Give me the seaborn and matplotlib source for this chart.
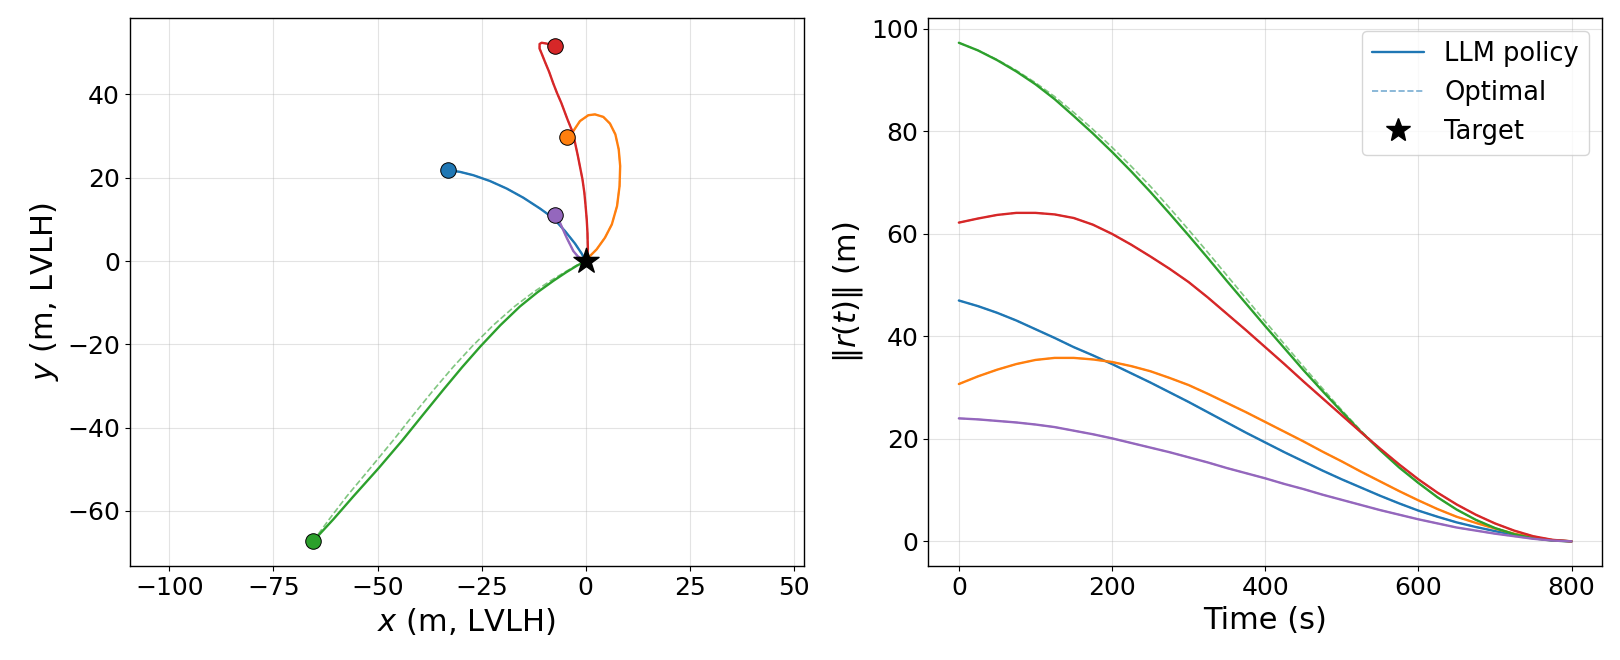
import matplotlib
matplotlib.use("Agg")
import matplotlib.pyplot as plt
import seaborn as sns
from matplotlib.lines import Line2D
from matplotlib.ticker import MultipleLocator

# ---------- data ----------
# trajectories in the LVLH x-y plane (m)
blue_x = [-33.0, -30.2, -27.0, -23.0, -19.0, -15.0, -11.0, -7.8, -5.0, -2.6, -1.0, 0.0]
blue_y = [21.8, 21.4, 20.6, 19.2, 17.4, 15.2, 12.6, 10.3, 7.2, 4.2, 1.8, 0.0]

orange_x = [-4.5, -3.0, -1.4, 0.6, 2.2, 4.2, 5.8, 7.1, 7.9, 8.25, 8.1, 7.5, 6.25, 4.6, 2.6, 1.0, 0.0]
orange_y = [29.7, 31.2, 33.6, 35.0, 35.2, 34.6, 33.0, 30.4, 26.8, 22.8, 18.0, 13.2, 8.8, 5.6, 2.8, 1.2, 0.0]

green_x = [-65.5, -60.6, -55.8, -49.8, -44.0, -39.0, -34.2, -29.7, -25.3, -20.5, -15.8, -11.6, -7.7, -4.7, -2.1, 0.0]
green_y = [-67.3, -62.0, -56.5, -49.8, -43.0, -36.8, -30.9, -25.5, -20.5, -15.4, -10.9, -7.5, -4.7, -2.7, -1.1, 0.0]
green_opt_x = [-65.5, -61.6, -57.4, -51.8, -46.2, -41.3, -36.5, -31.9, -27.3, -22.2, -17.1, -12.6, -8.4, -5.1, -2.3, 0.0]
green_opt_y = [-67.3, -62.0, -56.5, -49.8, -43.0, -36.8, -30.9, -25.5, -20.5, -15.4, -10.9, -7.5, -4.7, -2.7, -1.1, 0.0]

red_x = [-7.5, -9.4, -10.6, -11.1, -11.1, -10.6, -9.8, -8.8, -7.8, -6.9, -5.9, -4.4, -3.1, -2.5, -1.9,
         -1.35, -0.8, -0.35, -0.05, 0.22, 0.4, 0.5, 0.25, 0.0]
red_y = [51.6, 52.2, 52.4, 52.1, 51.0, 49.8, 47.8, 45.4, 42.6, 40.3, 38.0, 34.0, 30.8, 28.0, 25.2,
         22.4, 19.6, 16.4, 13.2, 10.0, 6.8, 2.8, 0.8, 0.0]

purple_x = [-7.5, -6.2, -4.6, -3.0, -2.0, -1.0, 0.0]
purple_y = [11.0, 9.2, 5.6, 2.4, 1.2, 0.4, 0.0]

# distance to target vs time
time_s = [0, 25, 50, 75, 100, 125, 150, 175, 200, 225, 250, 275, 300, 325, 350, 375, 400,
          425, 450, 475, 500, 525, 550, 575, 600, 625, 650, 675, 700, 725, 750, 775, 800]
norm_blue = [47.0, 45.9, 44.6, 43.1, 41.4, 39.7, 37.9, 36.3, 34.6, 32.8, 31.0, 29.1, 27.2, 25.2, 23.2, 21.2, 19.3,
             17.4, 15.6, 13.8, 12.1, 10.5, 8.9, 7.4, 6.0, 4.8, 3.7, 2.8, 2.0, 1.3, 0.7, 0.2, 0.0]
norm_orange = [30.7, 32.2, 33.5, 34.6, 35.4, 35.8, 35.8, 35.5, 35.0, 34.2, 33.2, 31.9, 30.5, 28.8, 27.0, 25.2, 23.3,
               21.4, 19.5, 17.5, 15.6, 13.6, 11.7, 9.8, 8.0, 6.3, 4.8, 3.6, 2.5, 1.5, 0.8, 0.25, 0.0]
norm_green = [97.3, 95.8, 93.9, 91.7, 89.2, 86.3, 83.0, 79.6, 76.0, 72.2, 68.2, 64.0, 59.7, 55.3, 50.8, 46.4, 42.0,
              37.7, 33.4, 29.3, 25.3, 21.4, 17.8, 14.4, 11.4, 8.6, 6.2, 4.2, 2.6, 1.4, 0.6, 0.15, 0.0]
norm_green_opt = [97.3, 95.8, 94.0, 91.9, 89.5, 86.8, 83.7, 80.4, 76.9, 73.2, 69.3, 65.1, 60.8, 56.4, 51.9, 47.4, 42.9,
                  38.5, 34.1, 29.8, 25.6, 21.6, 17.9, 14.5, 11.4, 8.6, 6.2, 4.2, 2.6, 1.4, 0.6, 0.15, 0.0]
norm_red = [62.2, 63.0, 63.7, 64.1, 64.1, 63.8, 63.1, 61.8, 60.0, 57.9, 55.6, 53.2, 50.6, 47.6, 44.4, 41.2, 37.9,
            34.6, 31.2, 27.9, 24.6, 21.3, 18.1, 15.0, 12.1, 9.5, 7.2, 5.2, 3.5, 2.1, 1.0, 0.3, 0.0]
norm_purple = [24.0, 23.8, 23.5, 23.2, 22.8, 22.3, 21.6, 20.9, 20.1, 19.2, 18.3, 17.4, 16.4, 15.4, 14.3, 13.3, 12.3,
               11.2, 10.2, 9.1, 8.1, 7.1, 6.1, 5.2, 4.3, 3.5, 2.7, 2.1, 1.5, 1.0, 0.5, 0.15, 0.0]

colors = ["tab:blue", "tab:orange", "tab:green", "tab:red", "tab:purple"]
traj = [(blue_x, blue_y), (orange_x, orange_y), (green_x, green_y), (red_x, red_y), (purple_x, purple_y)]
traj_opt = [(blue_x, blue_y), (orange_x, orange_y), (green_opt_x, green_opt_y), (red_x, red_y), (purple_x, purple_y)]
norms = [norm_blue, norm_orange, norm_green, norm_red, norm_purple]
norms_opt = [norm_blue, norm_orange, norm_green_opt, norm_red, norm_purple]

# ---------- figure ----------
sns.set_style("ticks")
plt.rcParams["font.family"] = ["DejaVu Sans"]
plt.rcParams["mathtext.fontset"] = "dejavusans"
plt.rcParams.update({"text.color": "black", "axes.labelcolor": "black",
                     "xtick.color": "black", "ytick.color": "black",
                     "axes.edgecolor": "black"})

fig, (ax1, ax2) = plt.subplots(1, 2, figsize=(16.2, 6.6), dpi=100)
fig.subplots_adjust(left=0.080, right=0.989, top=0.973, bottom=0.142, wspace=0.185)

LW = 1.7

# left: trajectories
for (xo, yo), c in zip(traj_opt, colors):
    sns.lineplot(x=xo, y=yo, sort=False, estimator=None, color=c, ax=ax1,
                 linestyle="--", linewidth=1.2, alpha=0.6, zorder=2)
for (x, y), c in zip(traj, colors):
    sns.lineplot(x=x, y=y, sort=False, estimator=None, color=c, ax=ax1,
                 linewidth=LW, zorder=3)
for (x, y), c in zip(traj, colors):
    ax1.scatter(x[0], y[0], s=125, color=c, edgecolor="black", linewidth=0.7, zorder=5)
ax1.scatter(0, 0, marker="*", s=360, color="black", zorder=6)
ax1.set_aspect("equal", adjustable="datalim")
ax1.xaxis.set_major_locator(MultipleLocator(25))
ax1.yaxis.set_major_locator(MultipleLocator(20))
ax1.set_xlabel(r"$x$ (m, LVLH)", fontsize=22)
ax1.set_ylabel(r"$y$ (m, LVLH)", fontsize=22)
ax1.tick_params(labelsize=18)
ax1.grid(True, color="#b0b0b0", alpha=0.35, linewidth=0.8)

# right: distance to target
for n_opt, c in zip(norms_opt, colors):
    sns.lineplot(x=time_s, y=n_opt, estimator=None, color=c, ax=ax2,
                 linestyle="--", linewidth=1.2, alpha=0.6, zorder=2)
for n, c in zip(norms, colors):
    sns.lineplot(x=time_s, y=n, estimator=None, color=c, ax=ax2,
                 linewidth=LW, zorder=3)
ax2.set_xlabel("Time (s)", fontsize=22)
ax2.set_ylabel(r"$\|r(t)\|$ (m)", fontsize=22)
ax2.tick_params(labelsize=18)
ax2.grid(True, color="#b0b0b0", alpha=0.35, linewidth=0.8)

handles = [
    Line2D([], [], color="tab:blue", linewidth=LW),
    Line2D([], [], color="tab:blue", linestyle="--", linewidth=1.2, alpha=0.6),
    Line2D([], [], color="black", marker="*", markersize=18, linestyle="none"),
]
ax2.legend(handles, ["LLM policy", "Optimal", "Target"], loc="upper right", fontsize=18.5)

for ax in (ax1, ax2):
    for sp in ax.spines.values():
        sp.set_color("black")
        sp.set_linewidth(1.0)

fig.savefig("out.png", dpi=100)
